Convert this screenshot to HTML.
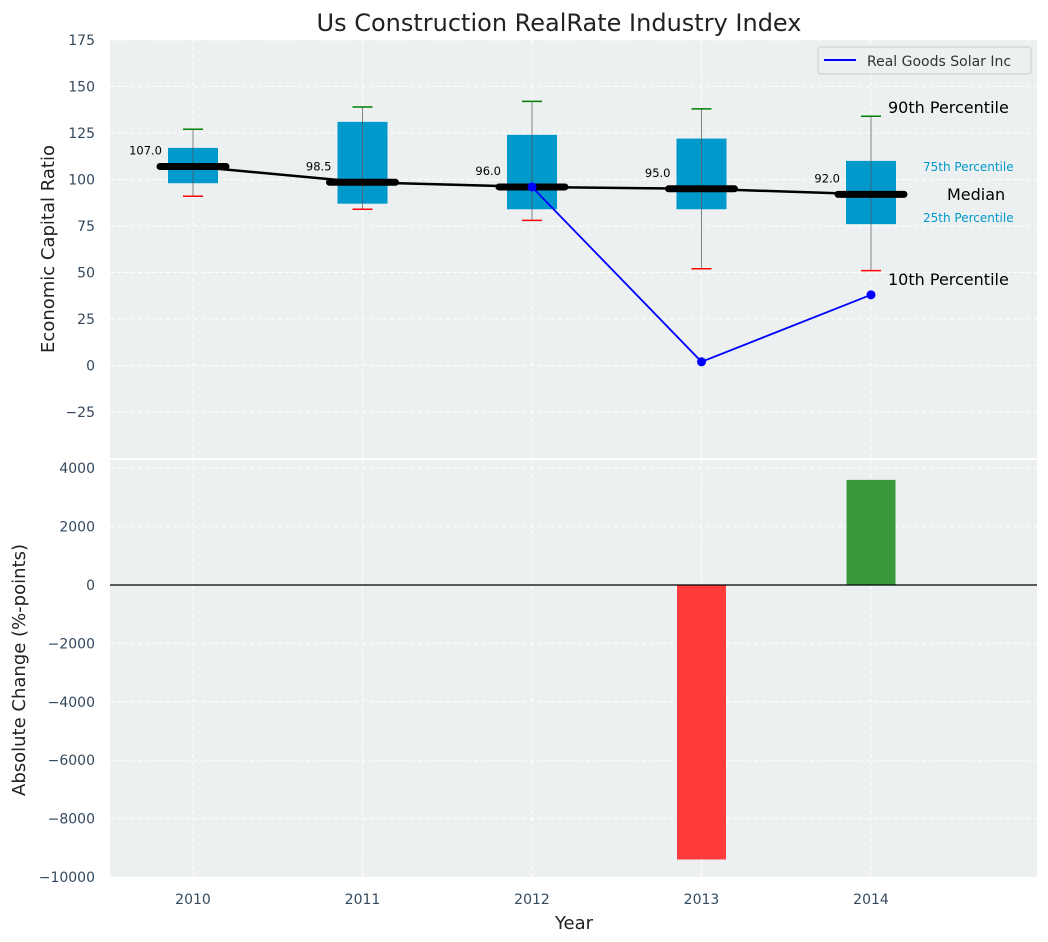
<!DOCTYPE html>
<html><head><meta charset="utf-8"><style>
body{margin:0;background:#fff;}
svg{display:block;font-family:"DejaVu Sans","Liberation Sans",sans-serif;}
</style></head><body>
<svg id="c" width="1048" height="942" viewBox="0 0 1048 942" xmlns="http://www.w3.org/2000/svg"></svg>
<script>
const years=[2010,2011,2012,2013,2014];
const p10=[91,84,78,52,51];
const q1=[98,87,84,84,76];
const medians=[107,98.5,96,95,92];
const q3=[117,131,124,122,110];
const p90=[127,139,142,138,134];
const companyYears=[2012,2013,2014];
const companyVals=[96,2,38];
const changeYears=[2013,2014];
const changeVals=[-9400,3600];
const topTicks=[-25,0,25,50,75,100,125,150,175];
const botTicks=[-10000,-8000,-6000,-4000,-2000,0,2000,4000];

const NS="http://www.w3.org/2000/svg";
const svg=document.getElementById('c');
function el(t,a,txt){const e=document.createElementNS(NS,t);for(const k in a)e.setAttribute(k,a[k]);if(txt!==undefined)e.textContent=txt;svg.appendChild(e);return e;}
const X0=110,X1=1037;
const x=v=>193+(v-2010)*169.5;
const yT=v=>365.5-v*1.86;
const yB=v=>585-v*0.0292;
const TT=40,TB=458,BT=460,BB=877;

let e;
e=el('rect',{x:X0,y:TT,width:X1-X0,height:TB-TT,fill:'#ecf0f1'});

e=el('rect',{x:X0,y:BT,width:X1-X0,height:BB-BT,fill:'#ecf0f1'});


years.forEach(yr=>{
  e=el('line',{x1:x(yr),x2:x(yr),y1:TT,y2:TB,stroke:'#fff','stroke-dasharray':'4,3'});
  
  e=el('line',{x1:x(yr),x2:x(yr),y1:BT,y2:BB,stroke:'#fff','stroke-dasharray':'4,3'});
  
  e=el('text',{x:x(yr),y:904,'text-anchor':'middle','font-size':14,fill:'#34495e'},yr);
  
});
topTicks.forEach(t=>{
  e=el('line',{x1:X0,x2:X1,y1:yT(t),y2:yT(t),stroke:'#fff','stroke-dasharray':'4,3'});
  
  e=el('text',{x:95,y:yT(t)+5,'text-anchor':'end','font-size':14,fill:'#34495e'},t<0?'\u2212'+(-t):t);
  
});
botTicks.forEach(t=>{
  e=el('line',{x1:X0,x2:X1,y1:yB(t),y2:yB(t),stroke:'#fff','stroke-dasharray':'4,3'});
  
  e=el('text',{x:95,y:yB(t)+5,'text-anchor':'end','font-size':14,fill:'#34495e'},t<0?'\u2212'+(-t):t);
  
});

years.forEach((yr,i)=>{
  const cx=x(yr);
  e=el('rect',{x:cx-25,y:yT(q3[i]),width:50,height:yT(q1[i])-yT(q3[i]),fill:'#0099cc'});
  
  e=el('line',{x1:cx,x2:cx,y1:yT(p90[i]),y2:yT(p10[i]),stroke:'#555','stroke-width':1,opacity:0.7});
  
  e=el('line',{x1:cx-10,x2:cx+10,y1:yT(p90[i]),y2:yT(p90[i]),stroke:'green','stroke-width':1.5});
  
  e=el('line',{x1:cx-10,x2:cx+10,y1:yT(p10[i]),y2:yT(p10[i]),stroke:'red','stroke-width':1.5});
  
});
e=el('polyline',{points:years.map((yr,i)=>x(yr)+','+yT(medians[i])).join(' '),fill:'none',stroke:'#000','stroke-width':2.5});

years.forEach((yr,i)=>{
  const cx=x(yr);
  e=el('line',{x1:cx-33,x2:cx+33,y1:yT(medians[i]),y2:yT(medians[i]),stroke:'#000','stroke-width':7,'stroke-linecap':'round'});
  
  e=el('text',{x:cx-31,y:yT(medians[i])-12,'text-anchor':'end','font-size':11.5,fill:'#000'},medians[i].toFixed(1));
  
});
e=el('polyline',{points:companyYears.map((yr,i)=>x(yr)+','+yT(companyVals[i])).join(' '),fill:'none',stroke:'blue','stroke-width':1.8});

companyYears.forEach((yr,i)=>{
  e=el('circle',{cx:x(yr),cy:yT(companyVals[i]),r:4.5,fill:'blue'});
  
});
const last=years.length-1,lx=x(years[last]);
e=el('text',{x:lx+17,y:113,'font-size':16,fill:'#000'},'90th Percentile');

e=el('text',{x:lx+17,y:285,'font-size':16,fill:'#000'},'10th Percentile');

e=el('text',{x:lx+52,y:171,'font-size':12,fill:'#0099cc'},'75th Percentile');

e=el('text',{x:lx+52,y:222,'font-size':12,fill:'#0099cc'},'25th Percentile');

e=el('text',{x:lx+76,y:200,'font-size':16,fill:'#000'},'Median');


changeYears.forEach((yr,i)=>{
  const v=changeVals[i],y0=yB(0),y1=yB(v);
  e=el('rect',{x:x(yr)-24.5,y:Math.min(y0,y1),width:49,height:Math.abs(y1-y0),fill:v<0?'#ff3b3b':'#3a9a3a'});
  
});
e=el('line',{x1:X0,x2:X1,y1:yB(0),y2:yB(0),stroke:'#000','stroke-width':1.2});


e=el('rect',{x:818,y:47,width:213,height:27,rx:3,fill:'#ecf0f1',stroke:'#ccc'});

e=el('line',{x1:824,x2:856,y1:60,y2:60,stroke:'blue','stroke-width':2});

e=el('text',{x:867,y:66,'font-size':14,fill:'#333'},'Real Goods Solar Inc');


e=el('text',{x:559,y:31,'text-anchor':'middle','font-size':24,fill:'#222'},'Us Construction RealRate Industry Index');

e=el('text',{x:54,y:249,'text-anchor':'middle','font-size':18,fill:'#222',transform:'rotate(-90 54 249)'},'Economic Capital Ratio');

e=el('text',{x:25,y:670,'text-anchor':'middle','font-size':18,fill:'#222',transform:'rotate(-90 25 670)'},'Absolute Change (%-points)');

e=el('text',{x:574,y:929,'text-anchor':'middle','font-size':18,fill:'#222'},'Year');

</script>
</body></html>
